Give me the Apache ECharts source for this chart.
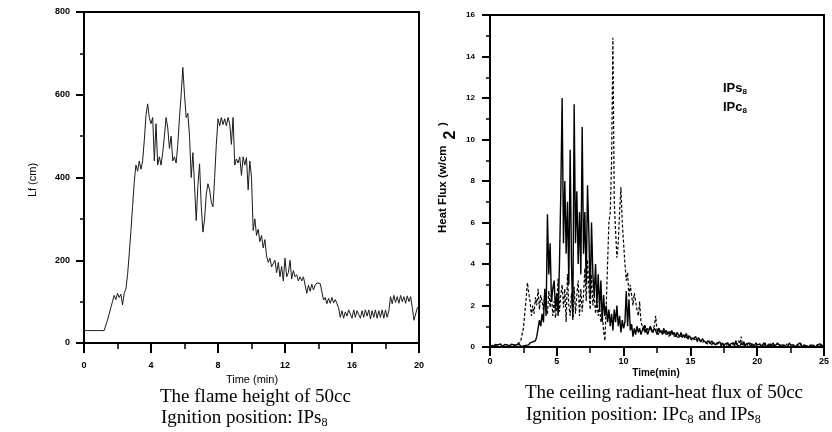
<!DOCTYPE html>
<html><head><meta charset="utf-8">
<script src="https://cdn.jsdelivr.net/npm/echarts@6/dist/echarts.min.js"></script>
<style>html,body{margin:0;padding:0;background:#fff}#c{width:832px;height:432px}</style>
</head><body><div id="c"></div>
<script>
// Flame height Lf (cm), sampled every 0.1 min from 0 to 20 min
const flameHeight = [
30,30,30,30,30,30,30,30,30,30,
30,30,30,30,55,70,85,100,115,105,
120,110,118,92,120,130,165,215,270,330,
390,430,415,440,420,440,490,550,578,545,
530,545,440,530,430,450,430,460,500,545,
520,470,500,440,450,435,480,545,600,666,
600,545,555,500,400,460,380,296,380,433,
330,268,300,360,385,370,340,329,400,480,
542,525,545,528,542,525,545,530,480,545,
430,445,435,450,405,450,430,448,370,440,
400,272,300,260,275,245,260,230,250,210,
195,205,184,180,200,170,195,160,185,150,
205,160,170,200,155,175,160,165,150,160,
150,160,158,120,140,125,142,128,140,145,
142,144,140,104,110,95,108,96,110,97,
105,95,85,62,78,60,75,65,80,82,
60,80,62,78,80,60,78,62,80,65,
80,58,78,62,80,60,78,62,80,60,
80,62,78,112,95,115,98,112,96,115,
100,112,96,114,100,112,85,55,58,85,
90
];
const flameStep = 0.1;

// Ceiling radiant heat flux (w/cm2), sampled every 0.1 min from 0 to 25 min
const fluxIPs8 = [
0.05,0.1,0.02,0.08,0.12,0.03,0.1,0.05,0.15,0.02,
0.08,0.12,0.04,0.1,0.0,0.09,0.13,0.05,0.1,0.03,
0.1,0.06,0.14,0.02,0.1,0.05,0.12,0.08,0.15,0.1,
0.2,0.12,0.25,0.18,0.3,0.5,0.9,1.3,1.0,1.6,
1.2,2.8,1.5,6.4,3.5,5.0,2.2,2.8,3.2,1.8,
2.6,1.5,4.0,7.5,12.0,5.0,8.0,4.5,7.0,3.0,
9.5,4.0,1.4,11.7,5.0,7.5,4.0,6.5,3.5,10.6,
4.5,6.5,3.0,7.8,5.5,2.3,6.0,3.5,2.5,4.0,
2.0,3.5,1.8,3.2,1.2,2.5,1.5,2.0,1.2,1.8,
1.0,1.6,0.8,1.8,1.2,2.0,1.0,1.5,0.7,1.3,
0.9,1.2,2.7,1.0,2.3,0.8,1.1,0.5,0.9,0.6,
1.0,0.7,0.9,0.6,0.8,1.0,0.7,0.9,0.6,0.8,
1.0,0.8,0.7,0.9,0.8,0.6,0.9,0.7,0.8,0.6,
0.9,0.7,0.8,0.6,0.75,0.55,0.8,0.6,0.7,0.5,
0.7,0.6,0.5,0.7,0.45,0.6,0.5,0.65,0.4,0.55,
0.45,0.5,0.4,0.35,0.5,0.3,0.45,0.35,0.25,0.4,
0.3,0.35,0.2,0.3,0.25,0.15,0.3,0.2,0.25,0.1,
0.2,0.15,0.25,0.1,0.2,0.05,0.15,0.1,0.2,0.05,
0.15,0.1,0.2,0.05,0.3,0.1,0.15,0.0,0.2,0.1,
0.25,0.05,0.15,0.1,0.2,0.0,0.15,0.1,0.05,0.2,
0.1,0.05,0.15,0.0,0.1,0.2,0.05,0.1,0.0,0.15,
0.05,0.1,0.2,0.0,0.1,0.05,0.15,0.1,0.0,0.1,
0.15,0.05,0.1,0.0,0.2,0.1,0.05,0.1,0.15,0.0,
0.1,0.05,0.2,0.1,0.0,0.1,0.15,0.05,0.1,0.0,
0.1,0.15,0.05,0.1,0.0,0.1,0.05,0.15,0.1,0.05,
0.1
];
const fluxIPc8 = [
0.05,0.0,0.08,0.03,0.06,0.0,0.04,0.1,0.02,0.05,
0.07,0.03,0.0,0.06,0.1,0.04,0.02,0.08,0.05,0.1,
0.15,0.1,0.2,0.3,0.6,0.9,1.6,2.3,3.1,2.6,
2.2,1.5,2.0,1.6,2.4,2.0,2.8,1.8,2.5,2.2,
1.8,2.6,2.0,1.6,2.7,1.9,2.6,1.5,2.2,1.4,
2.0,3.3,1.7,2.5,3.0,1.9,2.8,1.2,3.5,2.0,
1.5,2.6,1.3,2.9,1.6,2.5,3.2,1.5,2.8,1.7,
2.5,3.8,2.2,4.2,2.8,1.8,3.5,2.0,2.6,1.6,
2.2,1.5,2.0,1.2,1.6,0.8,0.3,2.0,4.0,6.0,
6.5,8.9,14.9,7.0,5.6,4.3,5.0,6.5,7.7,6.0,
5.0,4.0,3.2,3.6,2.4,3.0,2.5,2.0,2.6,2.2,
1.8,1.5,2.2,1.2,1.0,0.8,1.1,0.7,0.9,0.8,
1.0,0.7,0.9,1.0,1.5,0.8,0.6,0.9,0.7,0.8,
0.6,0.8,0.55,0.7,0.5,0.75,0.6,0.7,0.5,0.6,
0.55,0.4,0.6,0.5,0.45,0.6,0.4,0.5,0.35,0.5,
0.4,0.45,0.3,0.4,0.35,0.25,0.4,0.3,0.35,0.2,
0.3,0.2,0.25,0.15,0.3,0.2,0.1,0.25,0.15,0.2,
0.1,0.2,0.15,0.05,0.2,0.1,0.15,0.05,0.2,0.1,
0.15,0.05,0.2,0.1,0.25,0.1,0.3,0.15,0.5,0.1,
0.15,0.1,0.2,0.05,0.15,0.1,0.2,0.05,0.1,0.15,
0.05,0.1,0.0,0.15,0.05,0.1,0.2,0.0,0.1,0.05,
0.15,0.0,0.1,0.05,0.1,0.2,0.05,0.0,0.1,0.05,
0.1,0.0,0.15,0.05,0.1,0.0,0.05,0.1,0.0,0.05,
0.1,0.0,0.05,0.15,0.0,0.05,0.1,0.0,0.05,0.1,
0.0,0.05,0.1,0.0,0.05,0.1,0.0,0.05,0.1,0.0,
0.05
];
const fluxStep = 0.1;

const leftTitle = ['The flame height of 50cc', 'Ignition position: IPs', '8'];
const rightTitle = ['The ceiling radiant-heat flux of 50cc', 'Ignition position: IPc', '8', ' and IPs', '8'];
const legendNames = ['IPs', 'IPc'];

const pairs = (vals, step) => vals.map((v, i) => [Math.round(i * step * 10) / 10, v]);

const sans = 'Liberation Sans';
const serif = 'Liberation Serif';

function axisCommon(extra) {
  return Object.assign({
    type: 'value',
    axisLine: { show: true, lineStyle: { color: '#000', width: 2 } },
    axisTick: { show: true, inside: false, length: 8, lineStyle: { color: '#000', width: 2 } },
    minorTick: { show: true, splitNumber: 2, length: 4, lineStyle: { color: '#000', width: 1.5 } },
    splitLine: { show: false },
    minorSplitLine: { show: false },
    axisLabel: { color: '#000', fontFamily: sans, fontWeight: 'bold', fontSize: 9 }
  }, extra);
}

const chart = echarts.init(document.getElementById('c'), null, { renderer: 'canvas' });
chart.setOption({
  animation: false,
  backgroundColor: '#fff',
  grid: [
    { left: 84, top: 12, width: 335, height: 331, show: true, borderColor: '#000', borderWidth: 2, backgroundColor: 'transparent' },
    { left: 490, top: 15, width: 335, height: 332, show: true, borderColor: '#000', borderWidth: 2, backgroundColor: 'transparent' }
  ],
  xAxis: [
    axisCommon({ gridIndex: 0, min: 0, max: 20, interval: 4, axisTick: { length: 10, lineStyle: { color: '#000', width: 2 } },
      minorTick: { show: true, splitNumber: 2, length: 6, lineStyle: { color: '#000', width: 1.5 } },
      axisLabel: { color: '#000', fontFamily: sans, fontWeight: 'bold', fontSize: 9, margin: 18 } }),
    axisCommon({ gridIndex: 1, min: 0, max: 25, interval: 5, axisTick: { length: 9, lineStyle: { color: '#000', width: 2 } },
      minorTick: { show: true, splitNumber: 2, length: 6, lineStyle: { color: '#000', width: 1.5 } },
      axisLabel: { color: '#000', fontFamily: sans, fontWeight: 'bold', fontSize: 9, margin: 10 } })
  ],
  yAxis: [
    axisCommon({ gridIndex: 0, min: 0, max: 800, interval: 200,
      axisLabel: { color: '#000', fontFamily: sans, fontWeight: 'bold', fontSize: 9, margin: 14 } }),
    axisCommon({ gridIndex: 1, min: 0, max: 16, interval: 2,
      axisLabel: { color: '#000', fontFamily: sans, fontWeight: 'bold', fontSize: 8, margin: 15 } })
  ],
  series: [
    { name: 'Lf', type: 'line', xAxisIndex: 0, yAxisIndex: 0, data: pairs(flameHeight, flameStep),
      showSymbol: false, lineStyle: { color: '#1a1a1a', width: 1 } },
    { name: 'IPc8', type: 'line', xAxisIndex: 1, yAxisIndex: 1, data: pairs(fluxIPc8, fluxStep),
      showSymbol: false, lineStyle: { color: '#000', width: 1.2, type: [3, 2] } },
    { name: 'IPs8', type: 'line', xAxisIndex: 1, yAxisIndex: 1, data: pairs(fluxIPs8, fluxStep),
      showSymbol: false, lineStyle: { color: '#000', width: 1.4 } }
  ],
  graphic: [
    { type: 'text', x: 33, y: 180, rotation: Math.PI / 2,
      style: { text: 'Lf (cm)', font: '11px "Liberation Sans"', fill: '#000', align: 'center', verticalAlign: 'middle' } },
    { type: 'text', x: 252, y: 380,
      style: { text: 'Time (min)', font: '11px "Liberation Sans"', fill: '#000', align: 'center', verticalAlign: 'middle' } },
    { type: 'text', x: 443, y: 233, rotation: Math.PI / 2,
      style: { text: 'Heat Flux (w/cm', font: 'bold 11.5px "Liberation Sans"', fill: '#000', align: 'left', verticalAlign: 'middle' } },
    { type: 'text', x: 451, y: 135, rotation: Math.PI / 2,
      style: { text: '2', font: 'bold 16px "Liberation Sans"', fill: '#000', align: 'center', verticalAlign: 'middle' } },
    { type: 'text', x: 443, y: 124, rotation: Math.PI / 2,
      style: { text: ')', font: 'bold 11.5px "Liberation Sans"', fill: '#000', align: 'center', verticalAlign: 'middle' } },
    { type: 'text', x: 656, y: 373,
      style: { text: 'Time(min)', font: 'bold 10px "Liberation Sans"', fill: '#000', align: 'center', verticalAlign: 'middle' } },
    { type: 'text', x: 723, y: 88,
      style: { text: '{a|' + legendNames[0] + '}{s|8}', fill: '#000', verticalAlign: 'middle',
        rich: { a: { fontFamily: sans, fontWeight: 'bold', fontSize: 13, lineHeight: 16 },
                s: { fontFamily: sans, fontWeight: 'bold', fontSize: 8, lineHeight: 8, verticalAlign: 'bottom' } } } },
    { type: 'text', x: 723, y: 107,
      style: { text: '{a|' + legendNames[1] + '}{s|8}', fill: '#000', verticalAlign: 'middle',
        rich: { a: { fontFamily: sans, fontWeight: 'bold', fontSize: 13, lineHeight: 16 },
                s: { fontFamily: sans, fontWeight: 'bold', fontSize: 8, lineHeight: 8, verticalAlign: 'bottom' } } } },
    { type: 'text', x: 160, y: 397,
      style: { text: leftTitle[0], font: '19px "Liberation Serif"', fill: '#000', align: 'left', verticalAlign: 'middle' } },
    { type: 'text', x: 161, y: 418,
      style: { text: '{n|' + leftTitle[1] + '}{s|' + leftTitle[2] + '}', fill: '#000', verticalAlign: 'middle',
        rich: { n: { fontFamily: serif, fontSize: 19, lineHeight: 22 },
                s: { fontFamily: serif, fontSize: 12, lineHeight: 12, verticalAlign: 'bottom' } } } },
    { type: 'text', x: 525, y: 393,
      style: { text: rightTitle[0], font: '19px "Liberation Serif"', fill: '#000', align: 'left', verticalAlign: 'middle' } },
    { type: 'text', x: 526, y: 415,
      style: { text: '{n|' + rightTitle[1] + '}{s|' + rightTitle[2] + '}{n|' + rightTitle[3] + '}{s|' + rightTitle[4] + '}', fill: '#000', verticalAlign: 'middle',
        rich: { n: { fontFamily: serif, fontSize: 19, lineHeight: 22 },
                s: { fontFamily: serif, fontSize: 12, lineHeight: 12, verticalAlign: 'bottom' } } } }
  ]
});
</script>
</body></html>
